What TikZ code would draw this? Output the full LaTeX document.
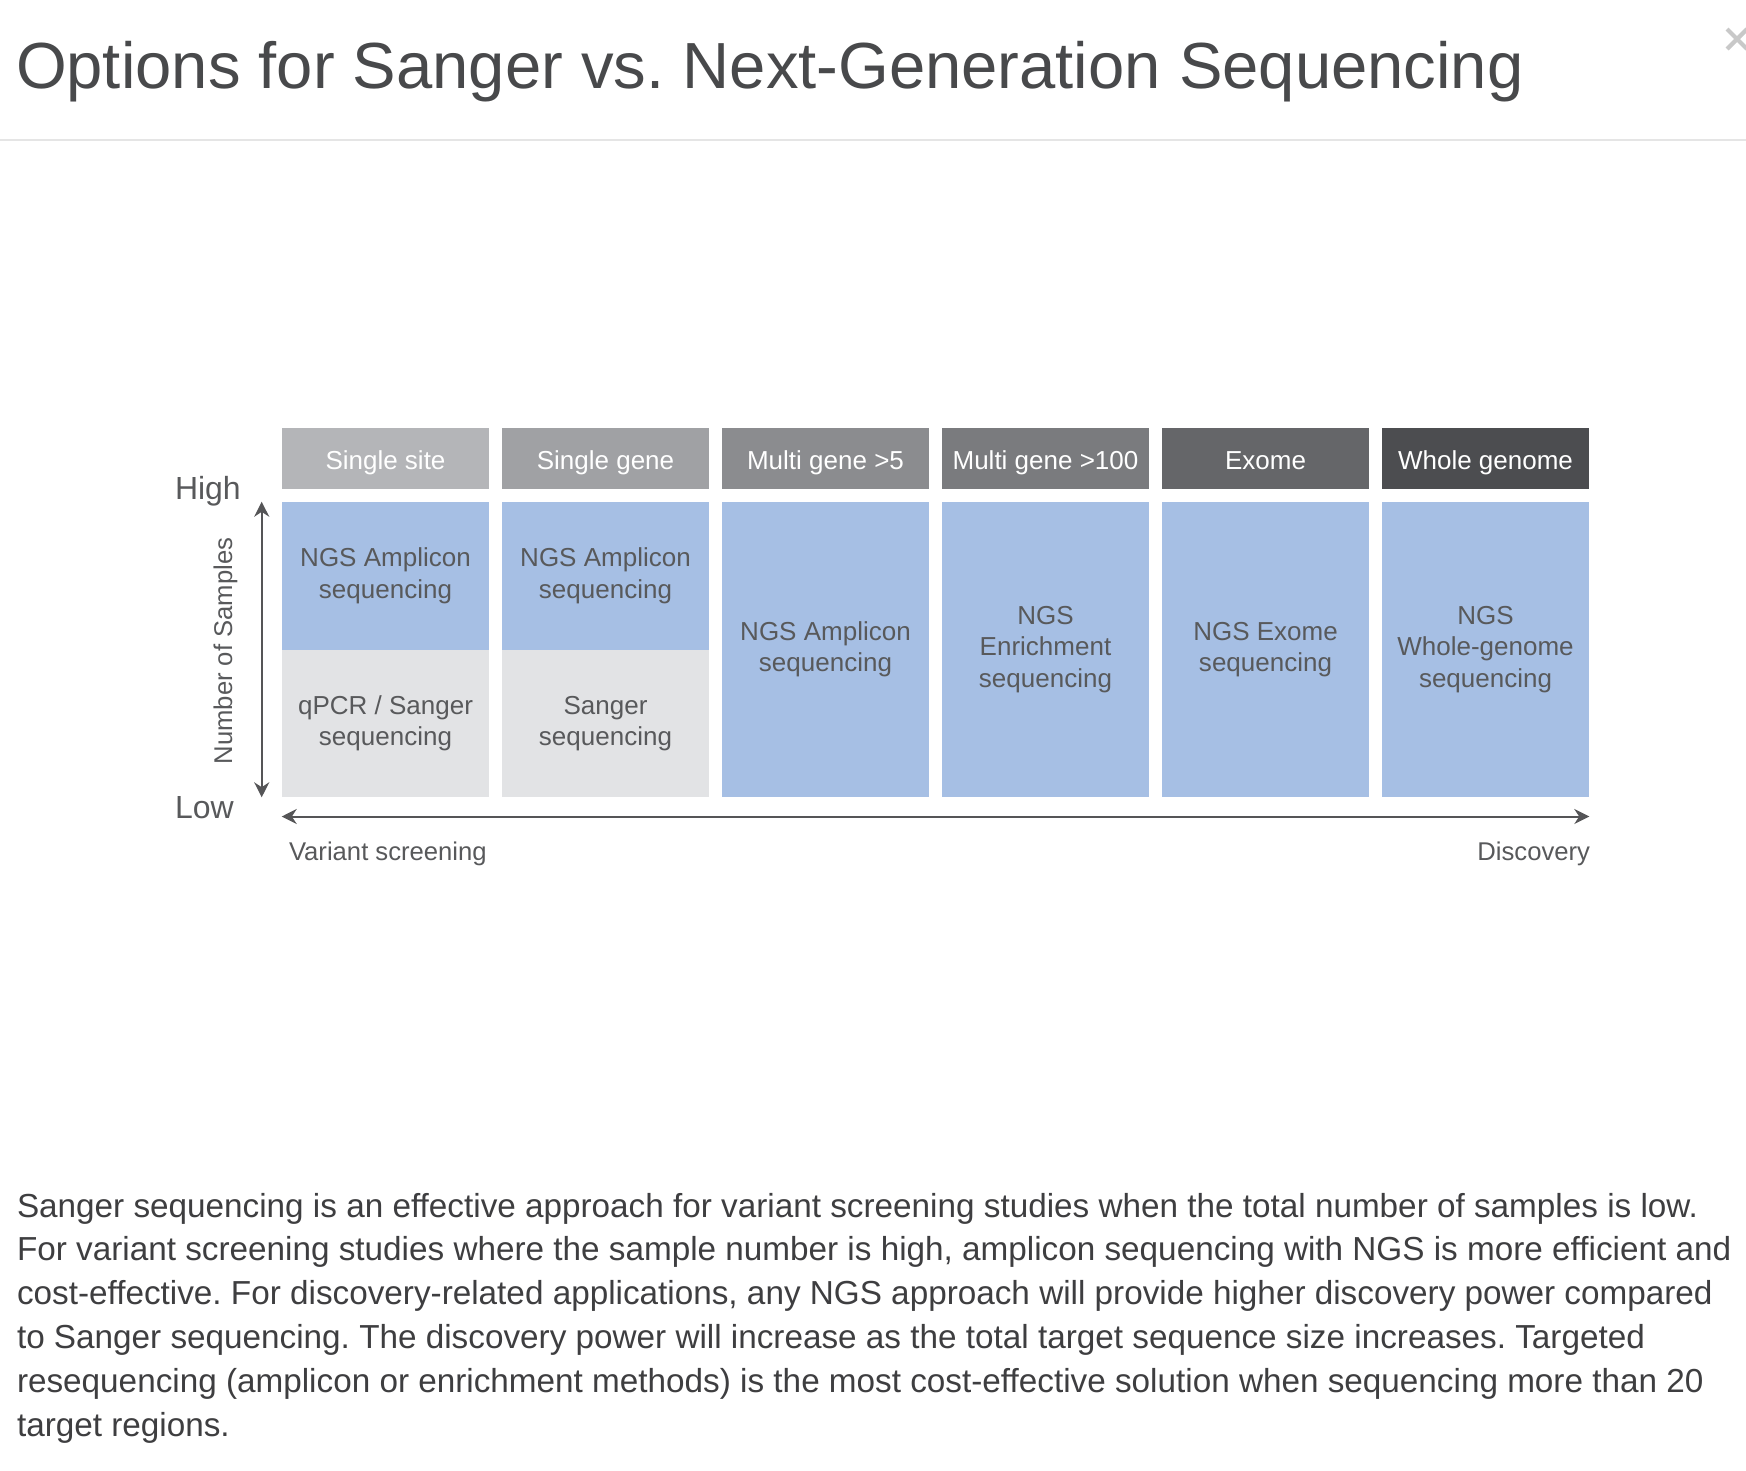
\documentclass[tikz,border=0pt]{standalone}
\usepackage{fontspec}
\setmainfont{Liberation Sans}
\frenchspacing
\definecolor{titleGray}{RGB}{72,73,75}
\definecolor{paraGray}{RGB}{62,62,64}
\definecolor{ruleGray}{RGB}{229,229,229}
\definecolor{closeGray}{RGB}{200,200,200}
\definecolor{hdOne}{RGB}{180,181,184}
\definecolor{hdTwo}{RGB}{160,161,164}
\definecolor{hdThree}{RGB}{139,140,143}
\definecolor{hdFour}{RGB}{122,123,126}
\definecolor{hdFive}{RGB}{101,102,105}
\definecolor{hdSix}{RGB}{76,77,80}
\definecolor{ngsBlue}{RGB}{166,191,228}
\definecolor{sangerGray}{RGB}{226,227,229}
\definecolor{cellText}{RGB}{88,89,91}
\definecolor{axisGray}{RGB}{85,85,87}
\usetikzlibrary{arrows.meta, positioning}

\begin{document}
\begin{tikzpicture}[x=0.1mm, y=-0.1mm,
      node distance=1.27mm and 1.24mm,
      every node/.style={inner sep=0pt, outer sep=0pt},
      head/.style={rectangle, minimum width=20.76mm, minimum height=6.07mm, text height=2.2mm, text depth=0mm, text=white, font=\fontsize{7.4}{9}\selectfont},
      cell/.style={rectangle, minimum width=20.76mm, align=center, text=cellText, font=\fontsize{7.4}{8.96}\selectfont},
      ngs/.style={cell, fill=ngsBlue},
      sanger/.style={cell, fill=sangerGray},
      half/.style={minimum height=14.78mm},
      full/.style={minimum height=29.56mm},
      level/.style={text=cellText, font=\fontsize{9.1}{11}\selectfont},
      axlabel/.style={text=cellText, font=\fontsize{7.3}{9}\selectfont},
      axis/.style={{Stealth[length=1.5mm, width=1.5mm]}-{Stealth[length=1.5mm, width=1.5mm]}, line width=0.2mm, axisGray}
    ]
      \path[fill=white, use as bounding box] (0,0) rectangle (1746,1470);

      \node[anchor=base west, text=titleGray, font=\fontsize{18.55}{22}\selectfont] (title) at (16,88) {Options for Sanger vs. Next-Generation Sequencing};
      \draw[ruleGray, line width=0.2mm] (0,140) -- (1746,140);
      \draw[closeGray, line width=0.42mm] (1727,29) -- (1747,49) (1727,49) -- (1747,29);

      \node[head, fill=hdOne] (site) at (385.5,458.65) {Single site};
      \node[head, fill=hdTwo, right=of site] (gene) {Single gene};
      \node[head, fill=hdThree, right=of gene] (multi) {Multi gene >5};
      \node[head, fill=hdFour, right=of multi] (multic) {Multi gene >100};
      \node[head, fill=hdFive, right=of multic] (exome) {Exome};
      \node[head, fill=hdSix, right=of exome] (whole) {Whole genome};

      \node[ngs, half, below=of site] (ampsite) {NGS Amplicon\\sequencing};
      \node[sanger, half, below=0mm of ampsite] (sgrsite) {qPCR / Sanger\\sequencing};
      \node[ngs, half, below=of gene] (ampgene) {NGS Amplicon\\sequencing};
      \node[sanger, half, below=0mm of ampgene] (sgrgene) {Sanger\\sequencing};
      \node[ngs, full, below=of multi] (ampmulti) {NGS Amplicon\\sequencing};
      \node[ngs, full, below=of multic] (enrmulti) {NGS\\Enrichment\\sequencing};
      \node[ngs, full, below=of exome] (exseq) {NGS Exome\\sequencing};
      \node[ngs, full, below=of whole] (wgseq) {NGS\\Whole-genome\\sequencing};

      \coordinate (ytop) at ([xshift=-2mm]ampsite.north west);
      \coordinate (ybot) at ([xshift=-2mm]sgrsite.south west);
      \coordinate (xleft) at ([yshift=-1.92mm]sgrsite.south west);
      \coordinate (xright) at ([yshift=-1.92mm]wgseq.south east);
      \draw[axis] (ytop) -- (ybot);
      \draw[axis] (xleft) -- (xright);

      \node[level, anchor=base west] (high) at (175,499.5) {High};
      \node[level, anchor=base west] (low) at (175,818) {Low};
      \node[axlabel, rotate=90, anchor=base] (samples) at (232,651) {Number of Samples};
      \node[axlabel, anchor=base west] (screen) at (289,860) {Variant screening};
      \node[axlabel, anchor=base east] (disc) at (1590,860) {Discovery};

      \node[anchor=north west, align=left, text=paraGray, font=\fontsize{9.47}{12.46}\selectfont] (desc) at (17,1193) {Sanger sequencing is an effective approach for variant screening studies when the total number of samples is low.\\
For variant screening studies where the sample number is high, amplicon sequencing with NGS is more efficient and\\
cost-effective. For discovery-related applications, any NGS approach will provide higher discovery power compared\\
to Sanger sequencing. The discovery power will increase as the total target sequence size increases. Targeted\\
resequencing (amplicon or enrichment methods) is the most cost-effective solution when sequencing more than 20\\
target regions.};
    \end{tikzpicture}
\end{document}
